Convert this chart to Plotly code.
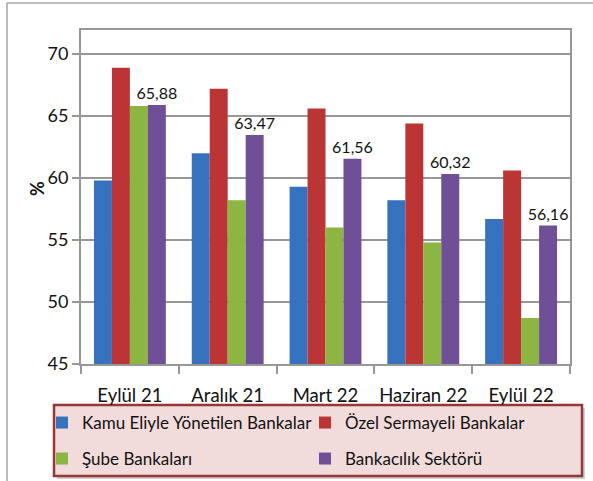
import plotly.graph_objects as go

# Dönemler ve seriler (%)
donemler = ["Eylül 21", "Aralık 21", "Mart 22", "Haziran 22", "Eylül 22"]
kamu = [59.8, 62.0, 59.3, 58.2, 56.7]
ozel = [68.9, 67.2, 65.6, 64.4, 60.6]
sube = [65.8, 58.2, 56.0, 54.8, 48.7]
sektor = [65.88, 63.47, 61.56, 60.32, 56.16]

seri_adlari = ["Kamu Eliyle Yönetilen Bankalar", "Özel Sermayeli Bankalar",
               "Şube Bankaları", "Bankacılık Sektörü"]
renkler = ["#3672BE", "#BC3535", "#8DB542", "#6F4F98"]

W, H = 593, 481
L, R, T, B = 81, 570, 30, 364          # plot area in pixels
pw, ph = R - L, B - T


def px(x):
    return (x - L) / pw


def py(y):
    return (B - y) / ph


FONT = "Lato"
fig = go.Figure()

legend_ids = ["legend", "legend2", "legend3", "legend4"]
for i, (ad, vals, renk) in enumerate(zip(seri_adlari, [kamu, ozel, sube, sektor], renkler)):
    kw = {}
    if i == 3:
        kw = dict(text=vals, texttemplate="%{y:.2f}", textposition="outside",
                  constraintext="none",
                  textfont=dict(family=FONT, size=16, color="#111111"))
    fig.add_trace(go.Bar(x=donemler, y=vals, name=ad, marker=dict(color=renk, line=dict(width=0)),
                         legend=legend_ids[i], cliponaxis=False, **kw))

gray = "#979797"
fig.update_layout(
    width=W, height=H,
    margin=dict(l=L, r=W - R, t=T, b=H - B, autoexpand=False),
    paper_bgcolor="white", plot_bgcolor="white",
    separators=",.",
    barmode="group", bargap=0.265, bargroupgap=0,
    uniformtext=dict(mode=False),
    font=dict(family=FONT, color="#111111"),
    xaxis=dict(showline=True, linecolor=gray, linewidth=2, mirror=True,
               ticks="outside", tickson="boundaries", ticklen=8, tickcolor=gray, tickwidth=2,
               tickangle=0, ticklabelstandoff=14,
               tickfont=dict(family=FONT, size=18.5, color="#111111"), showgrid=False),
    yaxis=dict(range=[45, 70 + 24 / 12.4], tick0=45, dtick=5, showline=True, linecolor=gray,
               linewidth=2, mirror=True, ticks="outside", ticklen=7, tickcolor=gray, tickwidth=2,
               showgrid=True, gridcolor=gray, gridwidth=2, zeroline=False,
               tickfont=dict(family=FONT, size=18, color="#111111")),
    showlegend=True,
)

# Legend entries laid out in two columns and two rows
leg_pos = [(42, 423), (305, 423), (42, 459), (305, 459)]
for lid, (lx, ly) in zip(legend_ids, leg_pos):
    fig.update_layout(**{lid: dict(x=px(lx), y=py(ly), xanchor="left", yanchor="middle",
                                   orientation="h", bgcolor="rgba(0,0,0,0)", borderwidth=0,
                                   font=dict(family=FONT, size=17, color="#111111"))})

shapes = [
    # outer chart frame
    dict(type="line", xref="paper", yref="paper", x0=px(7), x1=px(W + 5), y0=py(3), y1=py(3),
         line=dict(color="#a6a6a6", width=1.5)),
    dict(type="line", xref="paper", yref="paper", x0=px(7), x1=px(7), y0=py(3), y1=py(H + 5),
         line=dict(color="#a6a6a6", width=1.5)),
    # legend box shadow and box
    dict(type="rect", xref="paper", yref="paper", x0=px(57), x1=px(585), y0=py(479), y1=py(408),
         fillcolor="rgba(0,0,0,0.18)", line=dict(width=0), layer="below"),
    dict(type="rect", xref="paper", yref="paper", x0=px(54), x1=px(582), y0=py(476), y1=py(405),
         fillcolor="#F2DCDB", line=dict(color="#953735", width=2.5), layer="below"),
]
fig.update_layout(shapes=shapes)

fig.add_annotation(text="<b>%</b>", textangle=-90, xref="paper", yref="paper",
                   x=px(24), y=py(189), showarrow=False,
                   font=dict(family=FONT, size=18, color="#111111"))

fig.write_html("out.html")
